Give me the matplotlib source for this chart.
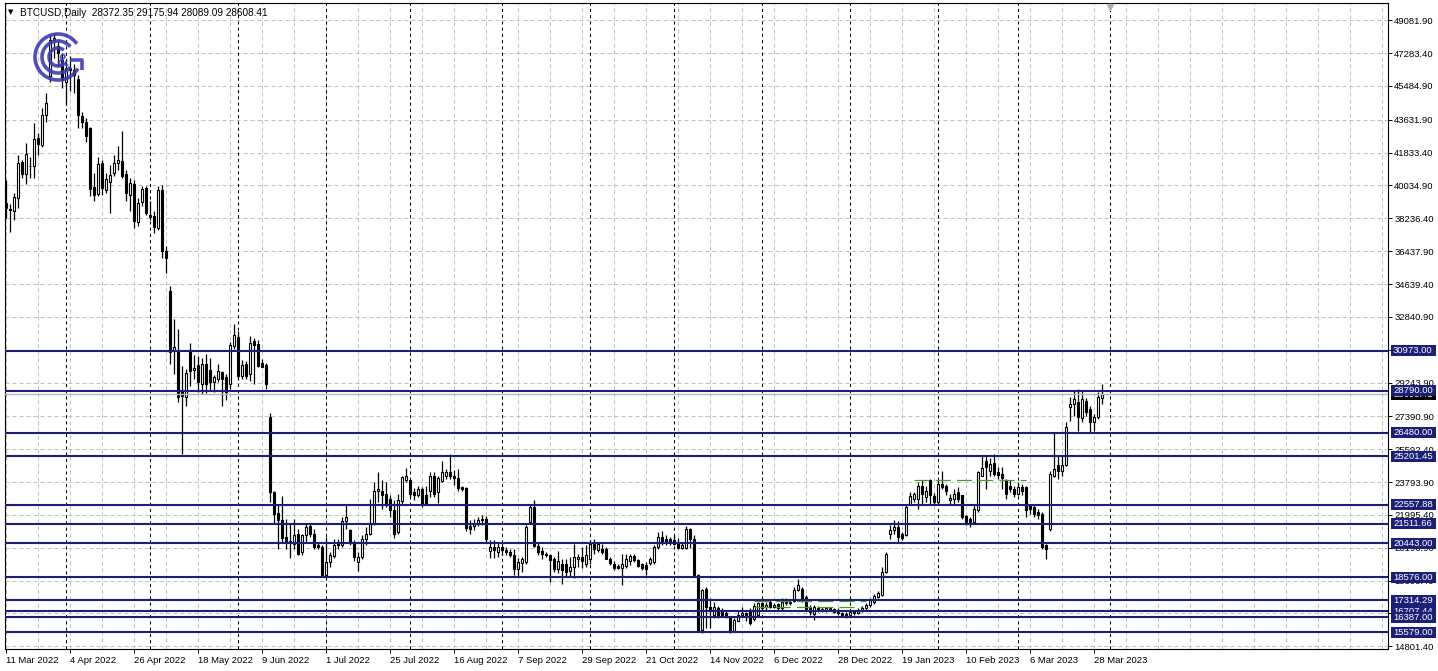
import matplotlib
matplotlib.use("Agg")
import matplotlib.pyplot as plt
import numpy as np
import pandas as pd
from matplotlib.patches import Arc, Rectangle

# ---------------- data ----------------
symbol = "BTCUSD,Daily"
header_values = "28372.35 29175.94 28089.09 28608.41"
start_date = "2022-03-11"

opens = [
    39090, 38750, 38620, 39350, 41295, 40660, 41120, 41130, 42620, 42260,
    43900, 46020, 47990, 47700, 46900, 45690, 46450, 46350, 45860, 43840,
    43530, 43170, 39930, 39580, 41260, 39800, 40200, 40710, 41260, 41400,
    40680, 39530, 40110, 38010, 39110, 39900, 38440, 38350, 37710, 39800,
    36430, 34250, 30950, 30970, 28790, 28430, 31030, 29950, 30200, 29160,
    30250, 29940, 29280, 29430, 29800, 29520, 29160, 31250, 31760, 29610,
    30250, 29700, 31520, 31340, 30340, 30200, 27330, 23240, 22110, 21690,
    20800, 20550, 20420, 20970, 19970, 20880, 21390, 20970, 20330, 20240,
    18730, 19430, 19750, 20510, 20370, 21640, 21150, 20480, 19430, 19690,
    20700, 20970, 21510, 23330, 23330, 23150, 22880, 22240, 21060, 22740,
    23930, 23880, 23250, 23100, 23430, 23060, 23330, 24120, 23240, 23840,
    24150, 24370, 24120, 24010, 23500, 23470, 21390, 21390, 21510, 21690,
    21790, 20020, 20260, 19970, 20240, 20060, 19970, 19820, 19020, 19380,
    19430, 21600, 22420, 20290, 20000, 19880, 19790, 19560, 19020, 19330,
    19330, 18910, 19150, 19600, 19690, 19290, 19600, 20420, 20060, 20110,
    20150, 19600, 19330, 19200, 19100, 19200, 19470, 19720, 19540, 19290,
    19240, 19380, 19430, 20240, 20790, 20700, 20700, 20600, 20510, 20180,
    20180, 21200, 20700, 18690, 15690, 17930, 16960, 16500, 16910, 16780,
    16600, 16330, 15600, 16200, 16510, 16600, 16650, 16290, 16510, 17150,
    16960, 17200, 16960, 17100, 16870, 17150, 17240, 17270, 17880, 17930,
    17510, 16870, 16550, 16870, 16820, 16780, 16870, 16820, 16780, 16600,
    16560, 16510, 16690, 16600, 16780, 16870, 17060, 17240, 17510, 17600,
    18880, 20970, 21150, 21330, 20970, 20880, 22610, 22880, 22880, 23600,
    22970, 23880, 23020, 22700, 23690, 23560, 22790, 22880, 23250, 23060,
    21930, 21790, 21600, 22240, 24150, 24970, 24420, 24840, 24330, 24240,
    23930, 23600, 23420, 23150, 23510, 23510, 22520, 22420, 22150, 22060,
    20330, 21200, 24150, 24700, 24420, 24700, 27930, 28060, 28160, 27290,
    28250, 27790, 27060, 27340, 28372.35,
]
highs = [
    40350, 39000, 39620, 41710, 41440, 42350, 41620, 43440, 42890, 44260,
    45115, 48260, 48400, 48050, 47280, 46900, 47100, 46700, 46100, 44050,
    43720, 43260, 40710, 41580, 41440, 40710, 41170, 41710, 42210, 43000,
    40900, 40440, 40350, 39350, 40020, 40020, 39170, 38620, 40020, 40080,
    36710, 34520, 32700, 32160, 30150, 29980, 31430, 30750, 30700, 30610,
    30800, 30610, 29650, 30250, 29880, 29700, 31470, 32430, 32070, 30500,
    30430, 31790, 31700, 31580, 30520, 30340, 27570, 23330, 22510, 23020,
    21790, 21520, 21790, 21240, 20970, 21570, 21510, 21240, 20510, 20370,
    20790, 19970, 20700, 20700, 21880, 22550, 21240, 20600, 19970, 20880,
    21330, 22880, 23790, 24330, 23880, 23790, 23060, 22790, 23150, 24150,
    24560, 24010, 23470, 23600, 23520, 23600, 24330, 24330, 24150, 24970,
    24520, 25330, 24480, 24520, 23600, 23520, 21690, 21750, 21880, 21970,
    21930, 20610, 20610, 20510, 20430, 20240, 20150, 20150, 19630, 19690,
    21420, 22610, 22830, 20510, 20240, 19970, 19880, 19690, 20020, 19600,
    19600, 19690, 20420, 19880, 20240, 20330, 20610, 20700, 20510, 20420,
    20240, 19690, 19460, 19330, 19880, 19880, 19880, 19880, 19600, 19380,
    19420, 19690, 20330, 21060, 21100, 20880, 20790, 20880, 20730, 20510,
    21390, 21280, 20880, 18770, 17960, 18060, 17420, 17240, 17010, 16910,
    16750, 16370, 16330, 16780, 16960, 16690, 16870, 17150, 17240, 17240,
    17240, 17330, 17150, 17150, 17420, 17420, 17330, 18060, 18470, 18060,
    17600, 17060, 17060, 16990, 16960, 16960, 16960, 16900, 16870, 16690,
    16690, 16780, 16780, 16870, 17010, 17150, 17420, 17650, 17820, 19150,
    19970, 21420, 21690, 21640, 21060, 22610, 23240, 23240, 23790, 23880,
    23600, 23970, 23200, 23880, 24420, 23690, 23150, 23420, 23510, 23100,
    22010, 21880, 22520, 24420, 25200, 25200, 25110, 25330, 24600, 24600,
    23970, 23880, 23600, 23790, 23690, 23600, 22610, 22520, 22330, 22150,
    20420, 24420, 26520, 25240, 25240, 27060, 28430, 28790, 28900, 28790,
    28380, 27970, 27520, 28700, 29175.94,
]
lows = [
    38270, 37510, 38160, 38820, 40440, 40130, 40440, 40440, 41710, 42170,
    43530, 45720, 47000, 46600, 45400, 44440, 45200, 45100, 43170, 43170,
    42440, 39440, 39170, 39470, 39530, 39620, 38530, 40530, 40900, 40440,
    39170, 38620, 37710, 37810, 38890, 38440, 38160, 37440, 37620, 36070,
    35250, 30250, 29700, 28160, 25330, 27970, 29060, 29430, 28700, 28610,
    28660, 28790, 28700, 29250, 27970, 28270, 28880, 31070, 29430, 29430,
    29430, 29340, 29160, 30070, 30070, 28880, 22700, 21510, 20150, 20510,
    20150, 19640, 20150, 19790, 19790, 20510, 20790, 20150, 20150, 18690,
    18690, 19150, 19640, 20150, 20240, 21240, 20330, 19460, 18910, 19600,
    20370, 20880, 21460, 22700, 22330, 22420, 21880, 20730, 20930, 22610,
    23790, 22970, 22790, 22970, 22420, 22520, 22970, 22970, 22660, 23790,
    23970, 23970, 23640, 23330, 23280, 21100, 20970, 21150, 21390, 21420,
    20510, 19630, 19630, 19690, 19790, 19790, 19690, 18690, 18660, 18880,
    19330, 21510, 20240, 19780, 19600, 19690, 18330, 18880, 18790, 18190,
    18660, 18610, 18520, 19150, 19060, 19150, 19330, 19880, 19970, 19880,
    19560, 19240, 18970, 19020, 18150, 19060, 19240, 19420, 19130, 18970,
    18690, 19240, 19330, 20150, 20330, 20330, 20370, 20330, 20110, 20110,
    20150, 20180, 18660, 15600, 15520, 15800, 15800, 16330, 16330, 16420,
    16370, 15510, 15560, 16170, 16420, 16200, 15990, 16200, 16470, 16780,
    16780, 16870, 16870, 16750, 16780, 17060, 17060, 17240, 17820, 17240,
    16780, 16510, 16240, 16690, 16690, 16690, 16720, 16600, 16510, 16420,
    16330, 16420, 16510, 16560, 16690, 16780, 16960, 17100, 17420, 17560,
    18800, 20700, 20970, 20510, 20610, 20840, 22550, 22700, 22330, 22610,
    22700, 22610, 22520, 22610, 23420, 23060, 22520, 22610, 22700, 21790,
    21460, 21330, 21510, 22150, 24150, 23420, 24150, 24150, 23970, 23420,
    22880, 23240, 22970, 23060, 23060, 21880, 22060, 21880, 21790, 20150,
    19600, 21100, 24060, 23970, 24150, 24660, 27150, 27430, 26610, 27060,
    27430, 26520, 26610, 27250, 28089.09,
]
closes = [
    38820, 38700, 39400, 41260, 40680, 41770, 41080, 42570, 42310, 43900,
    44540, 47990, 48100, 47280, 45800, 46450, 46350, 46080, 43900, 43530,
    42750, 39840, 39530, 41220, 39900, 40380, 40620, 41260, 41440, 40570,
    39620, 40170, 38070, 39080, 39840, 38530, 38310, 37770, 39800, 36430,
    36070, 30920, 31200, 28430, 28480, 29760, 29880, 30050, 29250, 30250,
    29160, 29280, 29520, 29850, 29430, 28740, 31290, 31830, 29610, 30200,
    29610, 31430, 31290, 30160, 30120, 29160, 23240, 22050, 21690, 20730,
    20550, 20500, 20880, 19880, 20880, 21330, 20970, 20240, 20240, 18730,
    19430, 19790, 20370, 20370, 21640, 21880, 20510, 19690, 19690, 20700,
    20930, 21510, 23330, 23430, 23100, 22610, 22240, 20970, 22790, 24060,
    24120, 23150, 23060, 23430, 22610, 22610, 24120, 23150, 24010, 24330,
    24340, 24120, 24010, 23470, 23390, 21280, 21200, 21510, 21690, 21790,
    20700, 20260, 20070, 20240, 20060, 19970, 19780, 19020, 19430, 19560,
    21330, 22420, 20290, 19970, 19880, 19820, 19510, 19020, 19460, 18960,
    18880, 19150, 19690, 19690, 19470, 19790, 20420, 20100, 20420, 19970,
    19600, 19380, 19060, 19100, 19330, 19560, 19720, 19540, 19200, 19060,
    19020, 19560, 20240, 20790, 20510, 20480, 20480, 20420, 20180, 20330,
    21200, 20700, 18690, 15690, 17880, 16960, 16800, 16960, 16510, 16510,
    16470, 15600, 16240, 16510, 16600, 16420, 16050, 17010, 17150, 16900,
    17080, 16960, 17050, 16870, 17240, 17240, 17150, 17880, 18150, 17330,
    16830, 16690, 16960, 16780, 16750, 16870, 16780, 16690, 16600, 16510,
    16470, 16690, 16600, 16780, 16920, 17060, 17330, 17560, 17690, 18880,
    19880, 21150, 21330, 20790, 20730, 22420, 23020, 23150, 23600, 23150,
    23330, 23060, 22700, 23690, 23510, 23330, 22920, 23150, 22880, 21880,
    21600, 21600, 22330, 24330, 24560, 24600, 24790, 24240, 24180, 24000,
    23150, 23420, 23150, 23510, 23330, 22240, 22330, 22060, 21970, 20240,
    20110, 24220, 24520, 24380, 24700, 26790, 28060, 28340, 27340, 28340,
    27610, 27060, 27340, 28430, 28608.41,
]

level_prices = [30973.00, 28790.00, 26480.00, 25201.45, 22557.88, 21511.66,
                20443.00, 18576.00, 17314.29, 16707.44, 16387.00, 15579.00]
grid_prices = [49081.90, 47283.40, 45484.90, 43631.90, 41833.40, 40034.90,
               38236.40, 36437.90, 34639.40, 32840.90, 31042.40, 29243.90,
               27390.90, 25592.40, 23793.90, 21995.40, 20196.90, 18398.40,
               16599.90, 14801.40]
bid_price = 28608.41
green_levels = [17300.0, 16940.0, 23880.0]
green_start = [187, 187, 227]
green_end = [215, 214, 255]

# ---------------- style ----------------
NAVY = "#1c1f78"
GRID = "#c0c0c0"
FONT = "Liberation Sans"
FS = 6.8
plt.rcParams["font.family"] = [FONT, "DejaVu Sans"]

n = len(closes)
assert len(opens) == len(highs) == len(lows) == n
total_slots = 346
dates = pd.bdate_range(start_date, periods=total_slots)

W, H = 1438, 671
fig = plt.figure(figsize=(W / 100, H / 100), dpi=100)
AX_W = 1383
ax = fig.add_axes([5 / W, 1 - 649 / H, AX_W / W, 646 / H])
YMIN, YMAX = 14650, 50030
ax.set_xlim(-0.25, 345.5)
ax.set_ylim(YMIN, YMAX)
price_per_px = (YMAX - YMIN) / 646.0

# grid (every 8 bars / at price grid)
for b in range(0, total_slots, 8):
    ax.axvline(b, color=GRID, lw=0.72, ls=(0, (4, 3)), zorder=1)
for p in grid_prices:
    ax.axhline(p, color=GRID, lw=0.72, ls=(0, (4, 3)), zorder=1)

# monthly separators
months = np.array([d.month for d in dates])
sep_idx = [i for i in range(1, n + 2) if months[i] != months[i - 1]]
for i in sep_idx:
    ax.axvline(i, color="black", lw=0.75, ls=(0, (3, 3)), zorder=1.5)

# candles
idx = np.arange(n)
o = np.array(opens, dtype=float)
h = np.array(highs, dtype=float)
l = np.array(lows, dtype=float)
c = np.array(closes, dtype=float)
up = c >= o
ax.vlines(idx, l, h, color="black", lw=0.9, zorder=4)
body_bottom = np.minimum(o, c)
body_h = np.maximum(np.abs(c - o), 25)
ax.bar(idx, body_h, bottom=body_bottom, width=0.55,
       color=np.where(up, "white", "black"), edgecolor="black",
       linewidth=0.8, zorder=5)

# green dashed lines
for p, s, e in zip(green_levels, green_start, green_end):
    ax.plot([s, e], [p, p], color="#4a9a2a", lw=0.9, ls=(0, (12, 5)), zorder=5.5)

# bid line
ax.axhline(bid_price, color="#b8b8b8", lw=1.0, zorder=5.6)

# horizontal level lines
for p in level_prices:
    ax.axhline(p, color=NAVY, lw=1.5, zorder=6)

# axes styling
for sp in ax.spines.values():
    sp.set_color("black")
    sp.set_linewidth(0.8)
ax.yaxis.tick_right()
ax.set_yticks(grid_prices)
ax.set_yticklabels([f"{p:.2f}" for p in grid_prices])
ax.tick_params(axis="y", which="both", length=3, width=0.7, pad=1.5,
               labelsize=FS, colors="black", left=False, right=True)
xt = list(range(0, n, 16))
ax.set_xticks(xt)
ax.set_xticklabels([f"{dates[i].day} {dates[i].strftime('%b %Y')}" for i in xt])
for lbl in ax.get_xticklabels():
    lbl.set_ha("left")
ax.tick_params(axis="x", length=3, width=0.7, pad=2, labelsize=FS, colors="black")

ytr = ax.get_yaxis_transform()
box_x0 = 1 + 3 / AX_W
box_w = 45 / AX_W
box_h = 11 * price_per_px
text_x = 1 + 5 / AX_W


def price_label(p, fc, z):
    ax.add_patch(Rectangle((box_x0, p - box_h / 2), box_w, box_h, transform=ytr,
                           facecolor=fc, edgecolor="none", clip_on=False,
                           zorder=z))
    ax.text(text_x, p, f"{p:.2f}", transform=ytr, ha="left", va="center",
            fontsize=FS, color="white", clip_on=False, zorder=z + 0.1)


# bid label (black) under level labels
price_label(bid_price, "black", 9)
for k, p in enumerate(level_prices):
    price_label(p, NAVY, 10 + 0.2 * k)

# chart shift marker
ax.plot([n + 1], [49800], marker="v", ms=4, color="#b0b0b0", clip_on=False, zorder=7)

# header
fig.text(8 / W, 1 - 12.5 / H, "\u25bc", fontsize=5, va="center", ha="left",
         family=["DejaVu Sans"])
fig.text(20 / W, 1 - 12.5 / H, f"{symbol}  {header_values}", fontsize=7.2,
         va="center", ha="left")

# logo watermark
lax = fig.add_axes([32 / W, 1 - 85 / H, 54 / W, 54 / H])
lax.set_xlim(0, 54)
lax.set_ylim(0, 54)
lax.axis("off")
lax.patch.set_alpha(0)
LOGO = "#3d3db5"
for r, t1, t2 in [(23, 35, 330), (16, 40, 320), (9, 50, 310)]:
    lax.add_patch(Arc((26, 28), 2 * r, 2 * r, theta1=t1, theta2=t2,
                      color=LOGO, lw=2.6, alpha=0.9))
lax.plot([38, 50, 50], [25, 25, 15], color=LOGO, lw=2.6, alpha=0.9,
         solid_capstyle="butt")
lax.text(30, 24, "&", fontsize=12, color=LOGO, ha="center", va="center",
         fontweight="bold", alpha=0.9)

fig.savefig("out.png", dpi=100)
